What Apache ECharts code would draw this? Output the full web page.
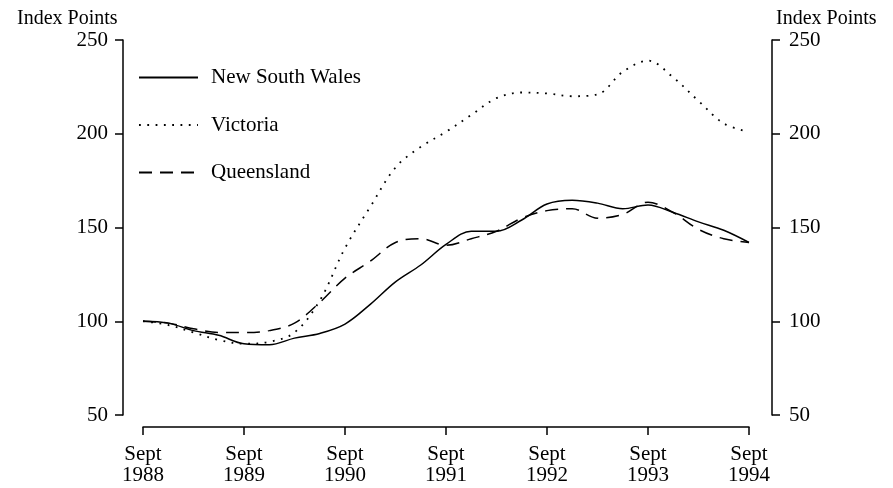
<!DOCTYPE html>
<html>
<head>
<meta charset="utf-8">
<script src="https://cdn.jsdelivr.net/npm/echarts@6/dist/echarts.min.js"></script>
<style>html,body{margin:0;padding:0;background:#fff}#c{width:893px;height:488px}</style>
</head>
<body>
<div id="c"></div>
<script>
const quarters = ['Sept 1988','Dec 1988','Mar 1989','Jun 1989','Sept 1989','Dec 1989','Mar 1990','Jun 1990','Sept 1990','Dec 1990','Mar 1991','Jun 1991','Sept 1991','Dec 1991','Mar 1992','Jun 1992','Sept 1992','Dec 1992','Mar 1993','Jun 1993','Sept 1993','Dec 1993','Mar 1994','Jun 1994','Sept 1994'];
const nsw = [100,99,95,92.5,88,87.5,91,93.5,98.5,109,121,130,141,148,148,154,162.5,164.5,163,160,162,158,153,148.5,142];
const victoria = [100,98,94,90,88,89,94,111,139,161,182,193,201,210,219,222,221.5,220,221,233,239,230,217.5,205.5,201];
const queensland = [100,99,96,94,94,95,99,110,123,132,142,144,140.5,144,148,155,159,160,155,157,163.5,158,149,144,142];
const yTicks = [50,100,150,200,250];
const axisTitle = 'Index Points';

const font = 'Liberation Serif';
const chart = echarts.init(document.getElementById('c'));
const yAxisBase = {
  type: 'value', min: yTicks[0], max: yTicks[yTicks.length-1], interval: yTicks[1]-yTicks[0],
  splitLine: {show:false},
  axisLine: {show:true, lineStyle:{color:'#000', width:1.5}},
  axisTick: {show:true, length:8, lineStyle:{color:'#000', width:1.5}},
  axisLabel: {color:'#000', fontFamily:font, fontSize:21, margin:15}
};
chart.setOption({
  animation: false,
  backgroundColor: '#fff',
  title: [
    {text: axisTitle, left: 12, top: 4, textStyle:{fontFamily:font, fontSize:20, fontWeight:'normal', color:'#000'}},
    {text: axisTitle, left: 771, top: 4, textStyle:{fontFamily:font, fontSize:20, fontWeight:'normal', color:'#000'}}
  ],
  grid: {left:143, right:144, top:40, bottom:73, containLabel:false},
  legend: {
    orient:'vertical', left:138, top:67, padding:0, itemWidth:59, itemHeight:12, itemGap:26.5,
    itemStyle:{opacity:0},
    textStyle:{fontFamily:font, fontSize:21, color:'#000', padding:[0,0,0,8]},
    data:['New South Wales','Victoria','Queensland']
  },
  xAxis: {
    type:'category', data: quarters, boundaryGap:false, offset:12,
    axisLine:{show:true, lineStyle:{color:'#000', width:1.5}},
    axisTick:{show:true, interval:3, length:8, inside:false, lineStyle:{color:'#000', width:1.5}},
    axisLabel:{interval:3, color:'#000', fontFamily:font, fontSize:21, margin:17, lineHeight:21,
      formatter: v => v.replace(' ', '\n')},
    splitLine:{show:false}
  },
  yAxis: [
    Object.assign({}, yAxisBase, {position:'left', offset:20}),
    Object.assign({}, yAxisBase, {position:'right', offset:23, axisLabel:Object.assign({}, yAxisBase.axisLabel, {margin:17})})
  ],
  series: [
    {name:'New South Wales', type:'line', data:nsw, smooth:0.35, symbol:'none',
      lineStyle:{color:'#000', width:1.5, type:'solid'}, itemStyle:{color:'#000'}},
    {name:'Victoria', type:'line', data:victoria, smooth:0.35, symbol:'none',
      lineStyle:{color:'#000', width:1.8, type:[1.8,6.5]}, itemStyle:{color:'#000'}},
    {name:'Queensland', type:'line', data:queensland, smooth:0.35, symbol:'none',
      lineStyle:{color:'#000', width:1.5, type:[13,8]}, itemStyle:{color:'#000'}}
  ]
});
</script>
</body>
</html>
